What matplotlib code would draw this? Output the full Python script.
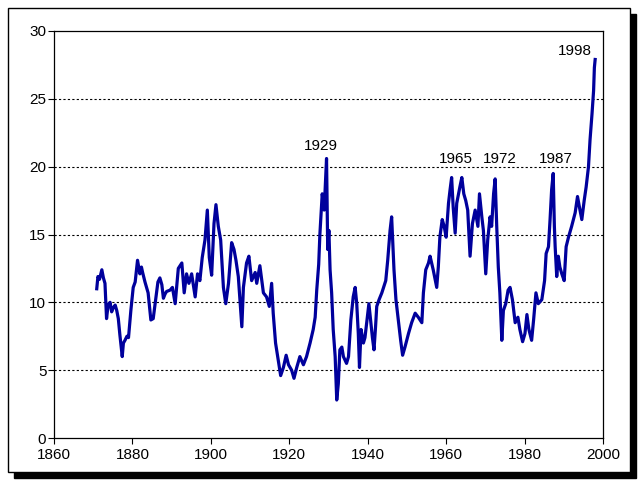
import matplotlib
matplotlib.use("Agg")
import matplotlib.pyplot as plt
from matplotlib.patches import Rectangle

years = [1870.9, 1871.2, 1871.6, 1872.2, 1872.6, 1873.0, 1873.4, 1873.8, 1874.3, 1874.7,
         1875.1, 1875.6, 1876.0, 1876.4, 1876.8, 1877.4, 1877.7, 1878.1, 1878.6, 1879.0,
         1879.6, 1880.2, 1880.7, 1881.3, 1881.9, 1882.3, 1882.6, 1883.2, 1884.0, 1884.7,
         1885.3, 1886.0, 1886.5, 1887.0, 1887.5, 1887.9, 1888.3, 1888.7, 1889.6, 1890.2,
         1890.9, 1891.7, 1892.6, 1893.2, 1893.8, 1894.4, 1895.1, 1896.0, 1896.6, 1897.2,
         1897.8, 1898.5, 1899.1, 1899.6, 1900.2, 1900.8, 1901.3, 1901.9, 1902.5, 1903.2,
         1903.8, 1904.5, 1905.3, 1905.9, 1906.4, 1907.0, 1907.6, 1907.9, 1908.3, 1909.1,
         1909.7, 1910.4, 1911.3, 1911.7, 1912.5, 1913.4, 1914.2, 1914.9, 1915.5, 1915.9,
         1916.5, 1917.2, 1917.8, 1918.5, 1919.2, 1919.8, 1920.6, 1921.2, 1921.9, 1922.7,
         1923.6, 1924.4, 1925.3, 1926.1, 1926.6, 1927.0, 1927.5, 1927.8, 1928.4, 1928.9,
         1929.5, 1929.8, 1930.1, 1930.4, 1930.8, 1931.2, 1931.7, 1932.1, 1932.5, 1932.9,
         1933.4, 1933.8, 1934.6, 1935.1, 1935.7, 1936.3, 1936.8, 1937.2, 1937.6, 1937.9,
         1938.3, 1938.9, 1939.3, 1939.9, 1940.3, 1940.8, 1941.2, 1941.6, 1942.0, 1942.3,
         1942.9, 1943.6, 1944.6, 1945.1, 1945.7, 1946.1, 1946.5, 1946.7, 1947.2, 1947.8,
         1948.4, 1948.9, 1949.5, 1950.4, 1951.2, 1952.1, 1952.9, 1953.8, 1954.2, 1954.8,
         1955.5, 1955.9, 1956.7, 1957.6, 1958.0, 1958.4, 1959.0, 1959.5, 1960.0, 1960.6,
         1961.0, 1961.4, 1961.8, 1962.3, 1962.7, 1963.5, 1964.0, 1964.5, 1965.0, 1965.5,
         1966.1, 1966.7, 1967.4, 1968.1, 1968.5, 1969.1, 1969.5, 1970.1, 1970.6, 1971.2,
         1971.6, 1972.1, 1972.5, 1972.9, 1973.3, 1973.7, 1974.2, 1974.6, 1975.2, 1975.8,
         1976.3, 1976.9, 1977.6, 1978.3, 1978.8, 1979.5, 1980.1, 1980.6, 1981.1, 1981.8,
         1982.3, 1982.9, 1983.5, 1984.4, 1985.1, 1985.5, 1986.1, 1986.5, 1986.9, 1987.3,
         1987.6, 1987.8, 1988.2, 1988.6, 1989.0, 1989.5, 1990.1, 1990.6, 1991.2, 1992.0,
         1992.9, 1993.5, 1994.0, 1994.6, 1995.2, 1995.7, 1996.3, 1996.7, 1997.2, 1997.6,
         1997.8, 1998.0]

pe = [11.0, 11.9, 11.7, 12.4, 11.8, 11.4, 8.8, 9.8, 10.0, 9.3,
      9.6, 9.8, 9.4, 8.8, 7.6, 6.0, 7.0, 7.2, 7.5, 7.4,
      9.4, 11.1, 11.5, 13.1, 12.1, 12.6, 12.2, 11.5, 10.7, 8.7,
      8.8, 10.4, 11.5, 11.8, 11.3, 10.3, 10.6, 10.8, 10.9, 11.1,
      9.9, 12.5, 12.9, 10.7, 12.1, 11.4, 12.1, 10.4, 12.1, 11.6,
      13.3, 14.6, 16.8, 13.3, 12.0, 15.8, 17.2, 15.6, 14.6, 11.1,
      9.9, 11.4, 14.4, 13.9, 13.1, 11.9, 9.5, 8.2, 11.1, 12.9,
      13.4, 11.6, 12.2, 11.4, 12.7, 10.7, 10.4, 9.7, 11.4, 9.2,
      7.0, 5.7, 4.6, 5.2, 6.1, 5.4, 5.0, 4.4, 5.2, 6.0,
      5.4, 6.0, 7.0, 8.0, 8.9, 10.9, 12.8, 15.0, 18.0, 16.8,
      20.6, 13.9, 15.3, 12.4, 10.7, 8.0, 6.0, 2.8, 4.0, 6.5,
      6.7, 6.0, 5.5, 6.0, 8.7, 10.4, 11.1, 9.9, 7.7, 5.2,
      8.0, 7.0, 7.4, 8.9, 9.9, 8.5, 7.4, 6.5, 8.2, 9.7,
      10.2, 10.7, 11.6, 13.1, 15.3, 16.3, 13.8, 12.4, 10.2, 8.7,
      7.2, 6.1, 6.7, 7.7, 8.5, 9.2, 8.9, 8.5, 10.7, 12.4,
      12.9, 13.4, 12.4, 11.1, 12.6, 14.8, 16.1, 15.6, 14.8, 17.3,
      18.3, 19.2, 17.0, 15.1, 17.3, 18.5, 19.2, 18.0, 17.5, 16.8,
      13.4, 15.8, 16.8, 15.6, 18.0, 16.3, 15.3, 12.1, 14.6, 16.3,
      15.6, 18.0, 19.1, 15.6, 12.6, 10.7, 7.2, 9.4, 9.9, 10.9,
      11.1, 10.2, 8.5, 8.9, 8.0, 7.1, 7.7, 9.1, 8.0, 7.2,
      8.7, 10.7, 9.9, 10.2, 11.6, 13.6, 14.1, 16.1, 18.3, 19.5,
      15.6, 14.1, 11.9, 13.4, 12.6, 12.1, 11.6, 14.1, 14.8, 15.6,
      16.6, 17.8, 17.0, 16.1, 17.5, 18.5, 20.0, 22.0, 23.9, 25.6,
      27.3, 27.9]

peak_labels = ["1929", "1965", "1972", "1987", "1998"]
x_ticks = [1860, 1880, 1900, 1920, 1940, 1960, 1980, 2000]
y_ticks = [0, 5, 10, 15, 20, 25, 30]

plt.rcParams['font.family'] = ['Liberation Sans', 'DejaVu Sans']

fig = plt.figure(figsize=(6.4, 4.8), dpi=100)
fig.patch.set_facecolor('white')

W, H = 640.0, 480.0
# shadow and frame
shadow = Rectangle(((8 + 6) / W, (480 - 478) / H), 622 / W, 464 / H,
                   transform=fig.transFigure, facecolor='black', edgecolor='black',
                   zorder=-2)
frame = Rectangle((8 / W, (480 - 472) / H), 622 / W, 464 / H,
                  transform=fig.transFigure, facecolor='white', edgecolor='black',
                  linewidth=1.0, zorder=-1)
fig.patches.extend([shadow, frame])

ax = fig.add_axes([54 / W, (480 - 438) / H, (603 - 54) / W, (438 - 31) / H])
ax.set_facecolor('none')

ax.plot(years, pe, color='#00009c', linewidth=2.3, zorder=3)

ax.set_xlim(1860, 2000)
ax.set_ylim(0, 30)
ax.set_xticks(x_ticks)
ax.set_yticks(y_ticks)
ax.tick_params(direction='out', length=4, width=0.8, labelsize=11, colors='black')
ax.tick_params(axis='x', pad=3)
ax.tick_params(axis='y', pad=1.5)

for v in y_ticks[1:-1]:
    ax.axhline(v, color='black', linewidth=0.8, linestyle=(0, (2, 2)), zorder=1)

for s in ax.spines.values():
    s.set_linewidth(0.9)
    s.set_color('black')

label_pos = [(1928.1, 21.5), (1962.5, 20.6), (1973.7, 20.6), (1988.0, 20.6), (1992.9, 28.5)]
for lbl, (lx, ly) in zip(peak_labels, label_pos):
    ax.text(lx, ly, lbl, ha='center', va='center', fontsize=11, color='black')

fig.savefig('out.png', dpi=100, facecolor='white')
